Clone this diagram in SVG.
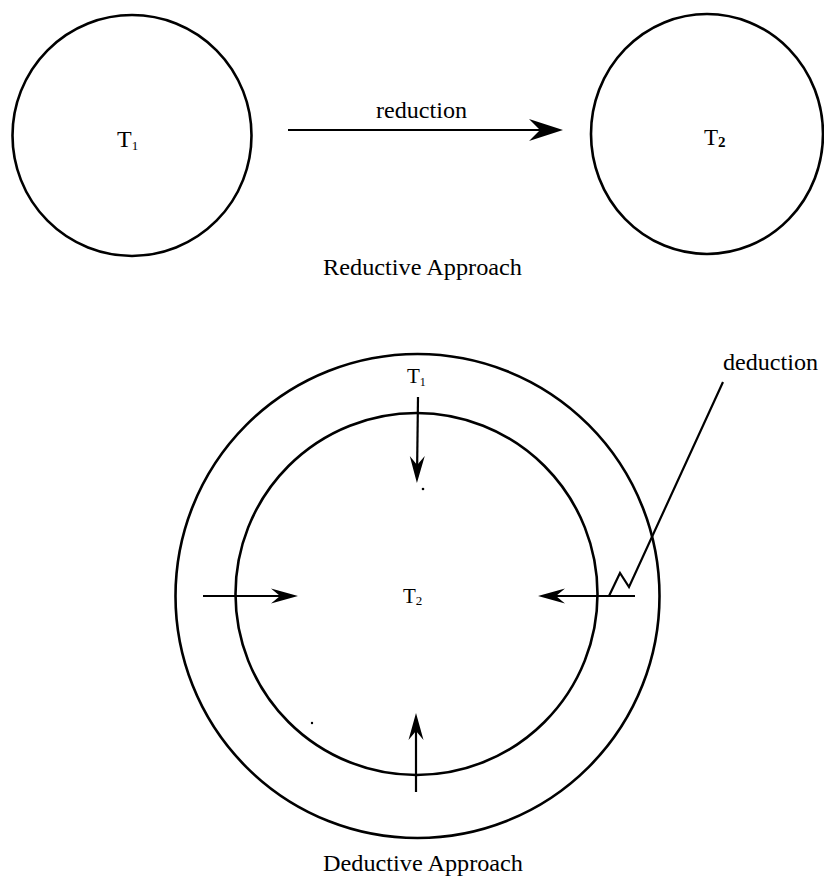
<svg xmlns="http://www.w3.org/2000/svg" width="824" height="878" viewBox="0 0 824 878">
<style>
.ring{fill:none;stroke:#000;stroke-width:2.6}
.ln{fill:none;stroke:#000;stroke-width:2.2}
text{font-family:"Liberation Serif","Times New Roman",serif;fill:#000}
.lbl{font-size:23px;text-anchor:middle}
</style>
<defs>
<marker id="big" viewBox="-36 -13 38 26" markerWidth="38" markerHeight="26" refX="-6" refY="0" orient="auto" markerUnits="userSpaceOnUse">
<path d="M0,0 L-34,-11 L-23,0 L-34,11 Z" fill="#000"/>
</marker>
<marker id="sm" viewBox="-30 -10 32 20" markerWidth="32" markerHeight="20" refX="-6" refY="0" orient="auto" markerUnits="userSpaceOnUse">
<path d="M0,0 L-27,-7.5 L-18,0 L-27,7.5 Z" fill="#000"/>
</marker>
</defs>

<g id="top-T1">
<ellipse class="ring" cx="132" cy="135.5" rx="119.5" ry="120.5"/>
<text x="117" y="147" font-size="24">T<tspan font-size="13" dy="3">1</tspan></text>
</g>
<g id="top-T2">
<ellipse class="ring" cx="707" cy="134" rx="116" ry="120"/>
<text x="704" y="145" font-size="23">T<tspan font-size="15" font-weight="bold" dy="2">2</tspan></text>
</g>
<text class="lbl" x="422.5" y="275" textLength="199" lengthAdjust="spacingAndGlyphs">Reductive Approach</text>

<g id="outer-T1">
<circle class="ring" cx="417.5" cy="596" r="242"/>
<text x="407" y="383" font-size="21">T<tspan font-size="12" dy="3">1</tspan></text>
</g>
<g id="inner-T2">
<circle class="ring" cx="416.5" cy="594" r="181"/>
<text x="403" y="603" font-size="21">T<tspan font-size="13" dy="2">2</tspan></text>
</g>
<text x="770.5" y="370" font-size="23" text-anchor="middle" textLength="95" lengthAdjust="spacingAndGlyphs">deduction</text>
<text class="lbl" x="423" y="871" textLength="200" lengthAdjust="spacingAndGlyphs">Deductive Approach</text>

<g id="connectors">
<line class="ln" x1="288" y1="130" x2="557" y2="130" marker-end="url(#big)"/>
<text class="lbl" x="421.5" y="118" font-size="22" textLength="91" lengthAdjust="spacingAndGlyphs">reduction</text>
<line class="ln" x1="418" y1="397" x2="417" y2="477" marker-end="url(#sm)"/>
<line class="ln" x1="203" y1="596" x2="292" y2="596" marker-end="url(#sm)"/>
<line class="ln" x1="635" y1="596" x2="544" y2="596" marker-end="url(#sm)"/>
<line class="ln" x1="416" y1="792" x2="416" y2="719" marker-end="url(#sm)"/>
<polyline class="ln" points="723,382 629,587 620,573 609,596"/>
</g>
<circle cx="423" cy="489" r="1.3" fill="#000"/>
<circle cx="312" cy="723" r="1.2" fill="#000"/>
</svg>
